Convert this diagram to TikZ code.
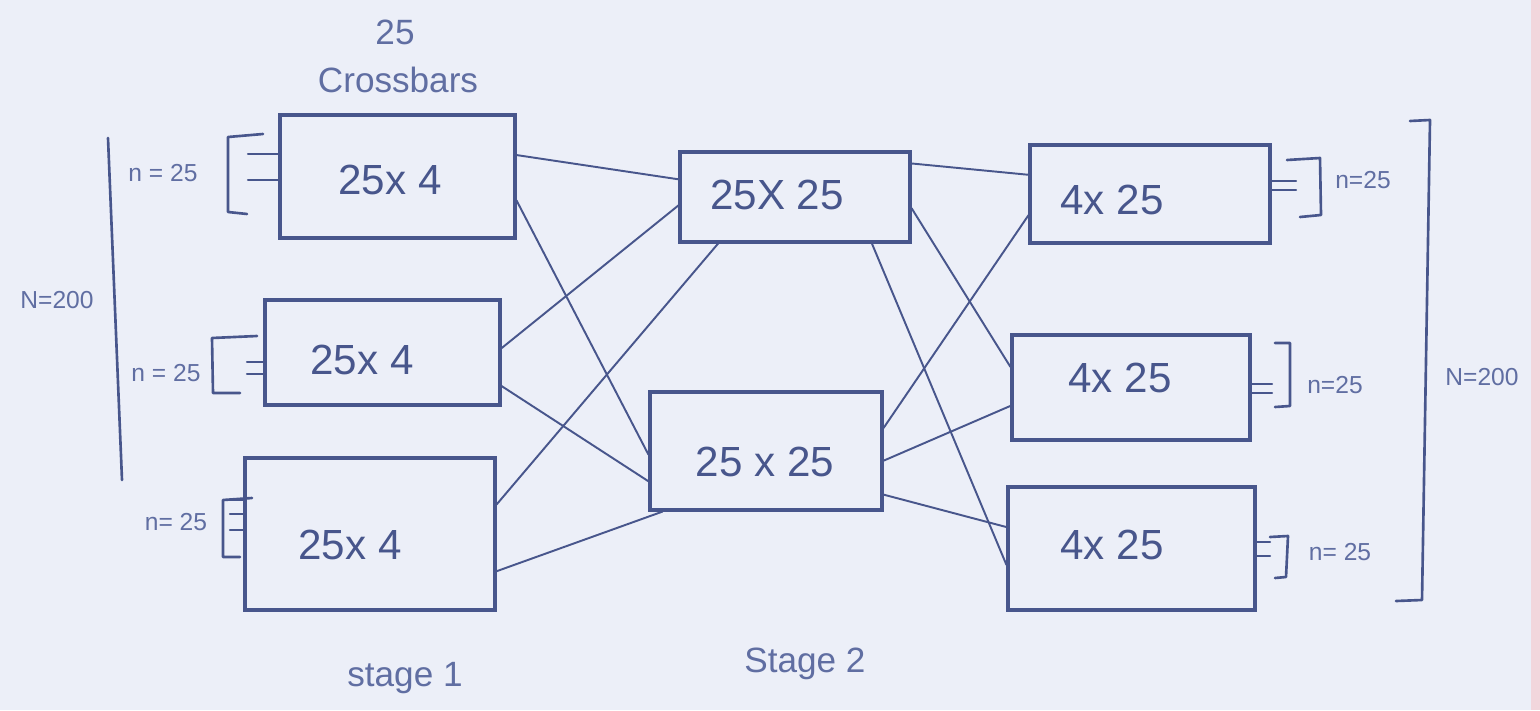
\documentclass[tikz,border=0pt]{standalone}
\usepackage{fontspec}
\setmainfont{Liberation Sans}
\usetikzlibrary{calc}
\definecolor{board}{RGB}{236,239,248}
\definecolor{ink}{RGB}{72,86,140}
\definecolor{inklight}{RGB}{96,110,162}
\definecolor{rim}{RGB}{242,214,220}
\tikzset{
  box/.style={draw=ink, line width=1.8pt, rectangle, inner sep=0pt},
  wire/.style={draw=ink, line width=1.1pt, line cap=round},
  brk/.style={draw=ink, line width=1.5pt, line cap=round, line join=round},
  tickline/.style={draw=ink, line width=1.2pt, line cap=round},
  bigtxt/.style={text=ink, font=\fontsize{24}{28}\selectfont},
  smalltxt/.style={text=inklight, font=\fontsize{14}{17}\selectfont},
  captxt/.style={text=inklight, font=\fontsize{20}{24}\selectfont},
}
\begin{document}
\begin{tikzpicture}[x=0.02cm, y=-0.02cm]
  % whiteboard
  \useasboundingbox (0,0) rectangle (1540,710);
  \fill[board] (0,0) rectangle (1540,710);
  \fill[rim] (1531,0) rectangle (1540,710);

  % stage 1 crossbars
  \node[box, minimum width=4.70cm, minimum height=2.46cm] (A1) at (397.5,176.5) {};
  \node[box, minimum width=4.70cm, minimum height=2.10cm] (A2) at (382.5,352.5) {};
  \node[box, minimum width=5.00cm, minimum height=3.04cm] (A3) at (370,534) {};
  \node[bigtxt] (A1t) at (390,180) {25x 4};
  \node[bigtxt] (A2t) at (362,360) {25x 4};
  \node[bigtxt] (A3t) at (350,545) {25x 4};

  % stage 2 crossbars
  \node[box, minimum width=4.60cm, minimum height=1.80cm] (B1) at (795,197) {};
  \node[box, minimum width=4.64cm, minimum height=2.36cm] (B2) at (766,451) {};
  \node[bigtxt] (B1t) at (777,195) {25X 25};
  \node[bigtxt] (B2t) at (765,462) {25 x 25};

  % stage 3 crossbars
  \node[box, minimum width=4.80cm, minimum height=1.96cm] (C1) at (1150,194) {};
  \node[box, minimum width=4.76cm, minimum height=2.10cm] (C2) at (1131,387.5) {};
  \node[box, minimum width=4.94cm, minimum height=2.46cm] (C3) at (1131.5,548.5) {};
  \node[bigtxt] (C1t) at (1112,200) {4x 25};
  \node[bigtxt] (C2t) at (1120,378) {4x 25};
  \node[bigtxt] (C3t) at (1112,545) {4x 25};

  % stage 1 -> stage 2
  \draw[wire] ($(A1.north east)!0.33!(A1.south east)$) -- ($(B1.north west)!0.31!(B1.south west)$);
  \draw[wire] ($(A1.north east)!0.69!(A1.south east)$) -- ($(B2.north west)!0.53!(B2.south west)$);
  \draw[wire] ($(A2.north east)!0.46!(A2.south east)$) -- ($(B1.north west)!0.59!(B1.south west)$);
  \draw[wire] ($(A2.north east)!0.81!(A2.south east)$) -- ($(B2.north west)!0.75!(B2.south west)$);
  \draw[wire] ($(A3.north east)!0.31!(A3.south east)$) -- ($(B1.south west)!0.17!(B1.south east)$);
  \draw[wire] ($(A3.north east)!0.74!(A3.south east)$) -- ($(B2.south west)!0.06!(B2.south east)$);

  % stage 2 -> stage 3
  \draw[wire] ($(B1.north east)!0.14!(B1.south east)$) -- ($(C1.north west)!0.31!(C1.south west)$);
  \draw[wire] ($(B1.north east)!0.62!(B1.south east)$) -- ($(C2.north west)!0.31!(C2.south west)$);
  \draw[wire] ($(B1.south west)!0.83!(B1.south east)$) -- ($(C3.north west)!0.63!(C3.south west)$);
  \draw[wire] ($(B2.north east)!0.31!(B2.south east)$) -- ($(C1.north west)!0.71!(C1.south west)$);
  \draw[wire] ($(B2.north east)!0.58!(B2.south east)$) -- ($(C2.north west)!0.67!(C2.south west)$);
  \draw[wire] ($(B2.north east)!0.86!(B2.south east)$) -- ($(C3.north west)!0.33!(C3.south west)$);

  % input groups on the left
  \draw[brk] (263,134) -- (228,137) -- (228,212) -- (247,214);
  \draw[tickline] (248,154) -- (A1.west |- 0,154);
  \draw[tickline] (248,180) -- (A1.west |- 0,180);
  \draw[brk] (257,336) -- (212,338) -- (213,393) -- (240,393);
  \draw[tickline] (247,362) -- (A2.west |- 0,362);
  \draw[tickline] (247,374) -- (A2.west |- 0,374);
  \draw[brk] (252,498) -- (223,500) -- (223,557) -- (240,557);
  \draw[tickline] (230,500) -- (A3.west |- 0,500);
  \draw[tickline] (230,514) -- (A3.west |- 0,514);
  \draw[tickline] (230,530) -- (A3.west |- 0,530);
  \draw[brk] (108,138) -- (122,480);
  \node[smalltxt] (n1) at (163,173) {n = 25};
  \node[smalltxt] (n2) at (166,373) {n = 25};
  \node[smalltxt] (n3) at (176,522) {n= 25};
  \node[smalltxt] (NL) at (57,300) {N=200};

  % output groups on the right
  \draw[tickline] (C1.east |- 0,181) -- (1296,181);
  \draw[tickline] (C1.east |- 0,190) -- (1296,190);
  \draw[brk] (1287,160) -- (1320,158) -- (1321,215) -- (1300,217);
  \draw[tickline] (C2.east |- 0,384) -- (1272,384);
  \draw[tickline] (C2.east |- 0,393) -- (1272,393);
  \draw[brk] (1275,343) -- (1290,343) -- (1290,406) -- (1275,407);
  \draw[tickline] (C3.east |- 0,542) -- (1270,542);
  \draw[tickline] (C3.east |- 0,556) -- (1270,556);
  \draw[brk] (1270,537) -- (1288,536) -- (1286,577) -- (1275,578);
  \draw[brk] (1410,121) -- (1430,120) -- (1422,600) -- (1396,601);
  \node[smalltxt] (m1) at (1363,180) {n=25};
  \node[smalltxt] (m2) at (1335,385) {n=25};
  \node[smalltxt] (m3) at (1340,552) {n= 25};
  \node[smalltxt] (NR) at (1482,377) {N=200};

  % captions
  \node[captxt] (cnt) at (395,32) {25};
  \node[captxt] (cap) at (398,80) {Crossbars};
  \node[captxt] (s1) at (405,678) {stage 1};
  \node[captxt] (s2) at (805,664) {Stage 2};
\end{tikzpicture}
\end{document}
